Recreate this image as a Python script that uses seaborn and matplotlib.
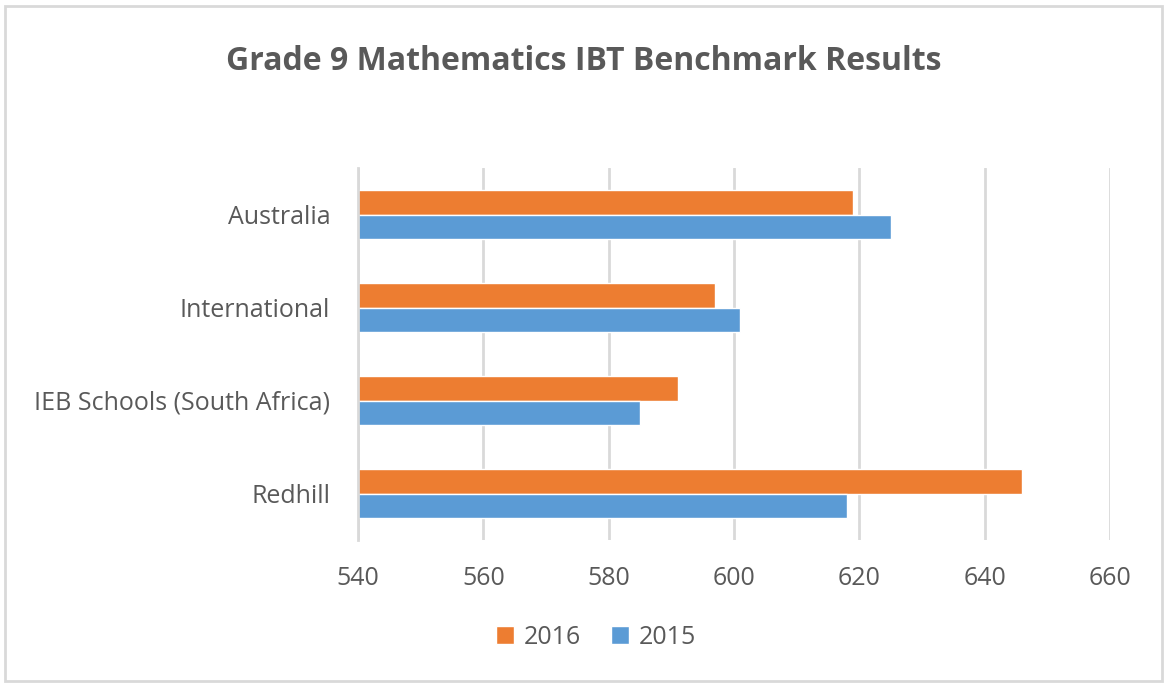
import pandas as pd
import matplotlib.pyplot as plt
import seaborn as sns
from matplotlib.patches import Rectangle

# Data
countries = ["Australia", "International", "IEB Schools (South Africa)", "Redhill"]
scores_2016 = [619, 597, 591, 646]
scores_2015 = [625, 601, 585, 618]
years = ["2016", "2015"]

df = pd.DataFrame({
    "Country": countries * 2,
    "Year": ["2016"] * 4 + ["2015"] * 4,
    "Score": scores_2016 + scores_2015,
})

sns.set_theme(style="white")
plt.rcParams["font.family"] = ["Open Sans", "DejaVu Sans"]

text_color = "#595959"
grid_color = "#D9D9D9"

fig = plt.figure(figsize=(11.67, 6.84), dpi=100)
ax = fig.add_axes([358 / 1167, 1 - 540 / 684, 752 / 1167, 372 / 684])

sns.barplot(data=df, y="Country", x="Score", hue="Year", hue_order=years,
            order=countries, orient="h",
            palette={"2016": "#ED7D31", "2015": "#5B9BD5"},
            width=0.52, saturation=1, ax=ax, zorder=3)

ax.set_xlim(540, 660)
ax.set_ylim(3.5, -0.5)
ax.set_xticks(range(540, 661, 20))
ax.grid(axis="x", color=grid_color, linewidth=2, zorder=0)
for s in ["top", "right", "bottom"]:
    ax.spines[s].set_visible(False)
ax.spines["left"].set_color(grid_color)
ax.spines["left"].set_linewidth(2)
ax.spines["left"].set_zorder(4)
ax.set_xlabel("")
ax.set_ylabel("")
ax.tick_params(axis="x", colors=text_color, labelsize=18, length=0, pad=19)
ax.tick_params(axis="y", colors=text_color, labelsize=18, length=0, pad=20)

fig.text(0.5, 1 - 61 / 684, "Grade 9 Mathematics IBT Benchmark Results",
         ha="center", va="center", fontsize=23, fontweight="bold", color=text_color)

handles, labels = ax.get_legend_handles_labels()
ax.legend(handles, labels, loc="center", bbox_to_anchor=(596 / 1167, 1 - 637 / 684),
          bbox_transform=fig.transFigure, ncol=2, frameon=False, fontsize=18,
          handlelength=0.7, handleheight=0.7, handletextpad=0.4, columnspacing=1.2,
          labelcolor=text_color)

fig.patches.append(Rectangle((5 / 1167, 3 / 684), 1157 / 1167, 675 / 684,
                             transform=fig.transFigure, fill=False,
                             edgecolor="#D9D9D9", linewidth=2))

fig.savefig("out.png", dpi=100)
plt.close(fig)
